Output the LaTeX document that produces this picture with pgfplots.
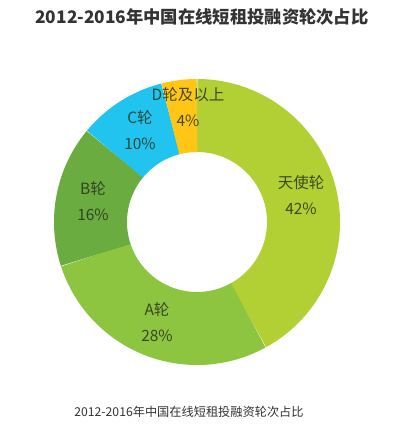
\documentclass[border=0pt]{standalone}
\usepackage{pgfplots}
\pgfplotsset{compat=1.18}
\usepackage{fontspec}
\setmainfont{Noto Sans CJK SC}
\definecolor{cAngel}{RGB}{178,208,52}
\definecolor{cA}{RGB}{141,196,64}
\definecolor{cB}{RGB}{106,172,64}
\definecolor{cC}{RGB}{32,196,238}
\definecolor{cD}{RGB}{255,198,22}
\definecolor{ttl}{RGB}{51,51,51}
\definecolor{lbl}{RGB}{40,50,30}
% shares (%) in clockwise order from 12 o'clock
% 天使轮 42, A轮 28, B轮 16, C轮 10, D轮及以上 4
\begin{document}
\begin{tikzpicture}
\begin{axis}[
  scale only axis, width=398pt, height=431pt,
  xmin=0, xmax=398, ymin=0, ymax=431,
  hide axis, clip=false,
]
\fill[white] (axis cs:0,0) rectangle (axis cs:398,431);
% center (197,209), ring radius 106.5, width 73
\addplot[line width=73pt, cAngel, domain=90:-61.2, samples=120, line cap=butt] ({197+106.5*cos(x)},{209+106.5*sin(x)});
\addplot[line width=73pt, cA, domain=-61.2:-162, samples=100, line cap=butt] ({197+106.5*cos(x)},{209+106.5*sin(x)});
\addplot[line width=73pt, cB, domain=-162:-219.6, samples=60, line cap=butt] ({197+106.5*cos(x)},{209+106.5*sin(x)});
\addplot[line width=73pt, cC, domain=-219.6:-255.6, samples=40, line cap=butt] ({197+106.5*cos(x)},{209+106.5*sin(x)});
\addplot[line width=73pt, cD, domain=-255.6:-270, samples=20, line cap=butt] ({197+106.5*cos(x)},{209+106.5*sin(x)});
\begin{scope}[every node/.style={font=\fontsize{15.5}{26}\selectfont, text=lbl, text opacity=0.85, align=center, inner sep=0pt}]
\node at (axis cs:301,236) {天使轮\\42\%};
\node at (axis cs:157,109) {A轮\\28\%};
\node at (axis cs:93,230) {B轮\\16\%};
\node at (axis cs:140,301) {C轮\\10\%};
\node at (axis cs:188,324) {D轮及以上\\4\%};
\end{scope}
\node[font=\fontsize{17.3}{20}\selectfont\bfseries, text=ttl, inner sep=0pt] at (axis cs:202,414) {2012-2016年中国在线短租投融资轮次占比};
\node[font=\fontsize{12.2}{14}\selectfont, text=ttl, inner sep=0pt] at (axis cs:189,19) {2012-2016年中国在线短租投融资轮次占比};
\end{axis}
\end{tikzpicture}
\end{document}
